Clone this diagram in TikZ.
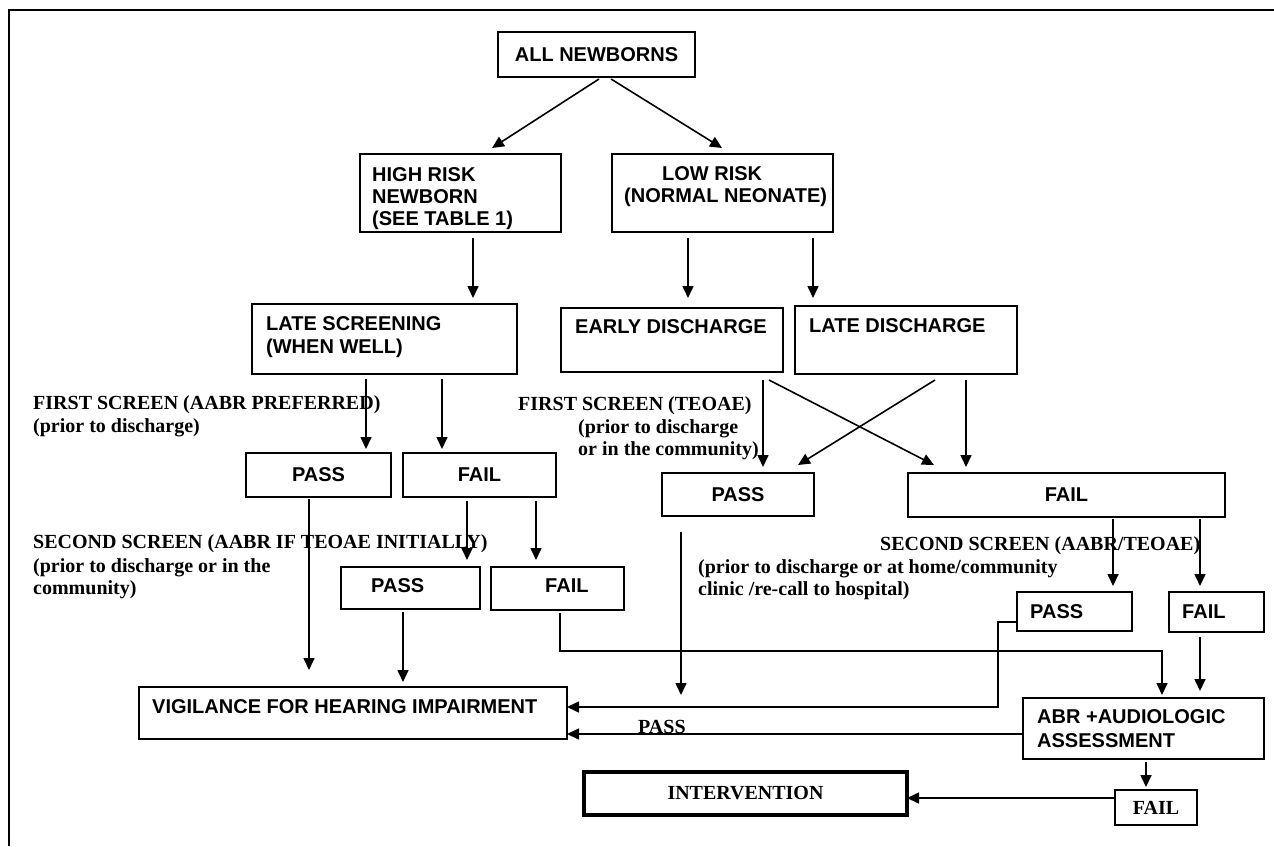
\documentclass[tikz,border=0pt]{standalone}
\usepackage{fontspec}
\setmainfont{Liberation Serif}
\newfontfamily\arialf{Liberation Sans}
\usetikzlibrary{arrows.meta,calc}
\begin{document}
\begin{tikzpicture}[x=1pt,y=-1pt,
  box/.style={draw, line width=1.8pt, inner sep=0pt, outer sep=0pt},
  sfont/.style={font=\arialf\bfseries\fontsize{20}{23}\selectfont},
  rfont/.style={font=\bfseries\fontsize{20}{23}\selectfont},
  stxt/.style={sfont, inner sep=0pt, anchor=base west},
  rtxt/.style={rfont, inner sep=0pt, anchor=base west},
  arr/.style={line width=1.6pt, -{Triangle[length=12pt,width=11pt]}},
]
\useasboundingbox (0,0) rectangle (1274,846);
\draw[line width=1.8pt] (9,846) -- (9,10) -- (1274,10);

% boxes
\node[box, sfont, minimum width=197pt, minimum height=45pt] (an) at (596.5,54.5) {ALL NEWBORNS};
\node[box, minimum width=201pt, minimum height=78pt] (hr) at (460.5,193) {};
\node[box, minimum width=221pt, minimum height=78pt] (lr) at (722.5,193) {};
\node[box, minimum width=265pt, minimum height=70pt] (ls) at (384.5,339) {};
\node[box, minimum width=222pt, minimum height=64pt] (ed) at (672,340) {};
\node[box, minimum width=222pt, minimum height=68pt] (ld) at (906,340) {};
\node[box, sfont, minimum width=145pt, minimum height=44pt] (p1) at (318.5,475) {PASS};
\node[box, sfont, minimum width=153pt, minimum height=44pt] (f1) at (479.5,475) {FAIL};
\node[box, sfont, minimum width=152pt, minimum height=43pt] (p3) at (738,494.5) {PASS};
\node[box, sfont, minimum width=317pt, minimum height=44pt] (f3) at (1066.5,495) {FAIL};
\node[box, minimum width=139pt, minimum height=42pt] (p2) at (410.5,588) {};
\node[box, minimum width=133pt, minimum height=43pt] (f2) at (557.5,588.5) {};
\node[box, minimum width=115pt, minimum height=39pt] (p4) at (1074.5,611.5) {};
\node[box, minimum width=95pt, minimum height=40pt] (f4) at (1216.5,612) {};
\node[box, minimum width=428pt, minimum height=52pt] (vig) at (353,713) {};
\node[box, minimum width=241pt, minimum height=61pt] (abr) at (1143.5,728.5) {};
\node[box, rfont, minimum width=82pt, minimum height=35pt] (f5) at (1156,807.5) {FAIL};
\node[box, rfont, line width=4pt, minimum width=323pt, minimum height=43pt] (int) at (745.5,793.5) {INTERVENTION};

% box texts
\node[stxt] (hr1) at (372,181) {HIGH RISK};
\node[stxt] (hr2) at (372,203) {NEWBORN};
\node[stxt] (hr3) at (372,225) {(SEE TABLE 1)};
\node[stxt] (lr1) at (662,180) {LOW RISK};
\node[stxt] (lr2) at (624,202) {(NORMAL NEONATE)};
\node[stxt] (ls1) at (266,330) {LATE SCREENING};
\node[stxt] (ls2) at (266,353) {(WHEN WELL)};
\node[stxt] (ed1) at (575,333) {EARLY DISCHARGE};
\node[stxt] (ld1) at (809,332) {LATE DISCHARGE};
\node[stxt] (p2t) at (371,592) {PASS};
\node[stxt] (f2t) at (545,592) {FAIL};
\node[stxt] (p4t) at (1030,618) {PASS};
\node[stxt] (f4t) at (1182,618) {FAIL};
\node[stxt] (vigt) at (152,713) {VIGILANCE FOR HEARING IMPAIRMENT};
\node[stxt] (abr1) at (1037,723) {ABR +AUDIOLOGIC};
\node[stxt] (abr2) at (1037,747) {ASSESSMENT};

% free labels
\node[rtxt] (s1a) at (33,409) {FIRST SCREEN (AABR PREFERRED)};
\node[rtxt] (s1b) at (33,432) {(prior to discharge)};
\node[rtxt] (s2a) at (518,410) {FIRST SCREEN (TEOAE)};
\node[rtxt] (s2b) at (578,433) {(prior to discharge};
\node[rtxt] (s2c) at (578,455) {or in the community)};
\node[rtxt] (s3a) at (33,548) {SECOND SCREEN (AABR IF TEOAE INITIALLY)};
\node[rtxt] (s3b) at (33,572) {(prior to discharge or in the};
\node[rtxt] (s3c) at (33,594) {community)};
\node[rtxt] (s4a) at (880,550) {SECOND SCREEN (AABR/TEOAE)};
\node[rtxt] (s4b) at (698,573) {(prior to discharge or at home/community};
\node[rtxt] (s4c) at (698,595) {clinic /re-call to hospital)};
\node[rtxt] (pl) at (638,733) {PASS};

% connectors
\draw[arr] ($(an.south -| 599,0)+(0,2)$) -- ($(hr.north -| 492,0)+(0,-6)$);
\draw[arr] ($(an.south -| 611,0)+(0,2)$) -- ($(lr.north -| 722,0)+(0,-6)$);
\draw[arr, shorten <=6pt, shorten >=6pt] (hr.south -| 473,0) -- (ls.north -| 473,0);
\draw[arr, shorten <=6pt, shorten >=10pt] (lr.south -| 688,0) -- (ed.north -| 688,0);
\draw[arr, shorten <=6pt, shorten >=8pt] (lr.south -| 813,0) -- (ld.north -| 813,0);
\draw[arr, shorten <=5pt, shorten >=4pt] (ls.south -| 366,0) -- (p1.north -| 366,0);
\draw[arr, shorten <=5pt, shorten >=4pt] (ls.south -| 442,0) -- (f1.north -| 442,0);
\draw[arr, shorten <=8pt, shorten >=6pt] (ed.south -| 763,0) -- (p3.north -| 763,0);
\draw[arr] ($(ed.south -| 769,0)+(0,8)$) -- ($(f3.north -| 934,0)+(0,-8)$);
\draw[arr] ($(ld.south -| 935,0)+(0,6)$) -- ($(p3.north -| 798,0)+(0,-8)$);
\draw[arr, shorten <=6pt, shorten >=6pt] (ld.south -| 966,0) -- (f3.north -| 966,0);
\draw[arr, shorten <=2pt, shorten >=17pt] (p1.south -| 309,0) -- (vig.north -| 309,0);
\draw[arr, shorten <=4pt, shorten >=7pt] (f1.south -| 467,0) -- (p2.north -| 467,0);
\draw[arr, shorten <=4pt, shorten >=7pt] (f1.south -| 536,0) -- (f2.north -| 536,0);
\draw[arr, shorten <=3pt, shorten >=5pt] (p2.south -| 403,0) -- (vig.north -| 403,0);
\draw[arr, shorten >=3pt] ($(f2.south -| 560,0)+(0,3)$) |- (1162,651) -- (abr.north -| 1162,0);
\coordinate (p3end) at (681,695);
\draw[arr] ($(p3.south -| 681,0)+(0,16)$) -- (p3end);
\draw[arr, shorten <=2pt, shorten >=6pt] (f3.south -| 1113,0) -- (p4.north -| 1113,0);
\draw[arr, shorten <=2pt, shorten >=6pt] (f3.south -| 1200,0) -- (f4.north -| 1200,0);
\draw[arr] (p4.west |- 0,622) -| (998,707) -- (vig.east |- 0,707);
\draw[arr, shorten <=5pt, shorten >=7pt] (f4.south -| 1200,0) -- (abr.north -| 1200,0);
\draw[arr] (abr.west |- 0,734) -- (vig.east |- 0,734);
\draw[arr, shorten <=3pt, shorten >=3pt] (abr.south -| 1146,0) -- (f5.north -| 1146,0);
\draw[arr] (f5.west |- 0,798) -- (int.east |- 0,798);
\end{tikzpicture}
\end{document}
